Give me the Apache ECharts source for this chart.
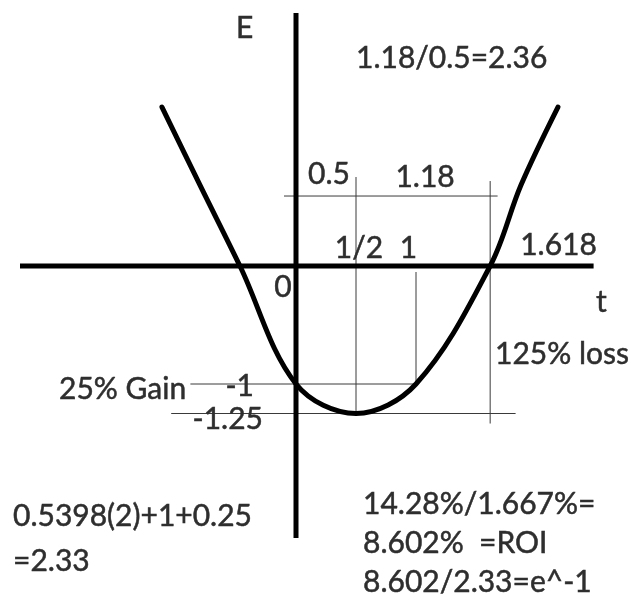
<!DOCTYPE html>
<html>
<head>
<meta charset="utf-8">
<script src="https://cdn.jsdelivr.net/npm/echarts@6/dist/echarts.min.js"></script>
<style>
  html, body { margin: 0; padding: 0; background: #ffffff; }
  #chart { width: 631px; height: 601px; }
</style>
</head>
<body>
<div id="chart"></div>
<script>
// Curve E(t): points along the sketched parabola (t, E)
const curveT = [-1.117, -0.8, -0.467, 0, 0.5, 1, 1.618, 1.875, 2.183];
const curveE = [1.347, 0.686, 0, -1, -1.25, -1, 0, 0.686, 1.347];

// Extents of the two heavy axes
const tAxisFrom = [-2.3, 0];
const tAxisTo = [2.48, 0];
const eAxisFrom = [0, 2.144];
const eAxisTo = [0, -2.305];

// Thin construction lines, each a pair of [t, E] ends
const spanGuide = [[-0.1, 0.593], [1.68, 0.593]];
const halfGuide = [[0.5, 0.754], [0.5, -1.25]];
const oneGuide = [[1, -0.051], [1, -1]];
const rootGuide = [[1.618, 0.72], [1.618, -1.335]];
const minusOneGuide = [[-0.88, -1], [1, -1]];
const vertexGuide = [[-1.04, -1.25], [1.83, -1.25]];

// Values marked on the axes
const tMarks = [0.5, 1, 1.618];
const tMarkText = ['1/2', '1', '1.618'];
const eMarks = [-1, -1.25];
const eMarkText = ['-1', '-1.25'];
const spanMids = [0.25, 1.059];
const spanText = ['0.5', '1.18'];

// Notes written around the graph
const noteTop = '1.18/0.5=2.36';
const noteLoss = '125% loss';
const noteGain = '25% Gain';
const noteLeft = ['0.5398(2)+1+0.25', '=2.33'];
const noteRight = ['14.28%/1.667%=', '8.602%  =ROI', '8.602/2.33=e^-1'];

const FONT = 'Lato, "Open Sans", sans-serif';
const INK = '#2e2e2e';

const chart = echarts.init(document.getElementById('chart'), null, { renderer: 'canvas' });

function seg(name, pts, width, color) {
  return {
    name: name, type: 'line', data: pts, symbol: 'none', silent: true,
    lineStyle: { width: width, color: color, cap: 'butt' }, z: width > 2 ? 3 : 2
  };
}

chart.setOption({
  animation: false,
  backgroundColor: '#ffffff',
  grid: { left: 8, right: 23, top: 6.4, bottom: 28.2 },
  xAxis: { type: 'value', min: -2.4, max: 2.6, show: false },
  yAxis: { type: 'value', min: -2.6, max: 2.2, show: false },
  series: [
    seg('guide-span', spanGuide, 1, '#3a3a3a'),
    seg('guide-half', halfGuide, 1, '#3a3a3a'),
    seg('guide-one', oneGuide, 1, '#3a3a3a'),
    seg('guide-root', rootGuide, 1, '#3a3a3a'),
    seg('guide-minus-one', minusOneGuide, 1, '#3a3a3a'),
    seg('guide-vertex', vertexGuide, 1, '#3a3a3a'),
    seg('t-axis', [tAxisFrom, tAxisTo], 5, '#000000'),
    seg('E-axis', [eAxisFrom, eAxisTo], 5, '#000000'),
    {
      name: 'E(t)', type: 'line', smooth: 0.35, symbol: 'none', silent: true,
      data: curveT.map((t, i) => [t, curveE[i]]),
      lineStyle: { width: 5, color: '#000000', cap: 'round', join: 'round' }, z: 4
    }
  ]
});

function txt(text, x, y, align) {
  return {
    type: 'text', z: 10, silent: true,
    style: {
      text: text, x: x, y: y,
      fontSize: 30, fontFamily: FONT, fill: INK,
      stroke: INK, lineWidth: 0.5,
      textAlign: align || 'left', align: align || 'left',
      textVerticalAlign: 'middle', verticalAlign: 'middle'
    }
  };
}

const px = (t, e) => chart.convertToPixel({ gridIndex: 0 }, [t, e]);
const texts = [];

// axis names
texts.push(txt('E', 236, 28.5));
texts.push(txt('t', 596, 302.5));

// origin
const o = px(0, 0);
texts.push(txt('0', o[0] - 13, o[1] + 21.5, 'center'));

// t-axis marks
const tOff = [[3, -17.5, 'center'], [-7.5, -17.5, 'center'], [30, -20.5, 'left']];
tMarks.forEach((t, i) => {
  const p = px(t, 0);
  texts.push(txt(tMarkText[i], p[0] + tOff[i][0], p[1] + tOff[i][1], tOff[i][2]));
});

// E-axis marks
const eOff = [[-42, 2.5], [-33, 5.5]];
eMarks.forEach((e, i) => {
  const p = px(0, e);
  texts.push(txt(eMarkText[i], p[0] + eOff[i][0], p[1] + eOff[i][1], 'right'));
});

// span widths above the construction line
const sOff = [[3, -21.5], [2, -18.5]];
spanMids.forEach((t, i) => {
  const p = px(t, spanGuide[0][1]);
  texts.push(txt(spanText[i], p[0] + sOff[i][0], p[1] + sOff[i][1], 'center'));
});

// notes
texts.push(txt(noteTop, 356, 58.5));
texts.push(txt(noteLoss, 495, 354.5));
texts.push(txt(noteGain, 59, 389.5));
noteLeft.forEach((s, i) => texts.push(txt(s, 13, 516.5 + i * 45)));
noteRight.forEach((s, i) => texts.push(txt(s, 363, 504.5 + i * 39)));

chart.setOption({ graphic: texts });
</script>
</body>
</html>
